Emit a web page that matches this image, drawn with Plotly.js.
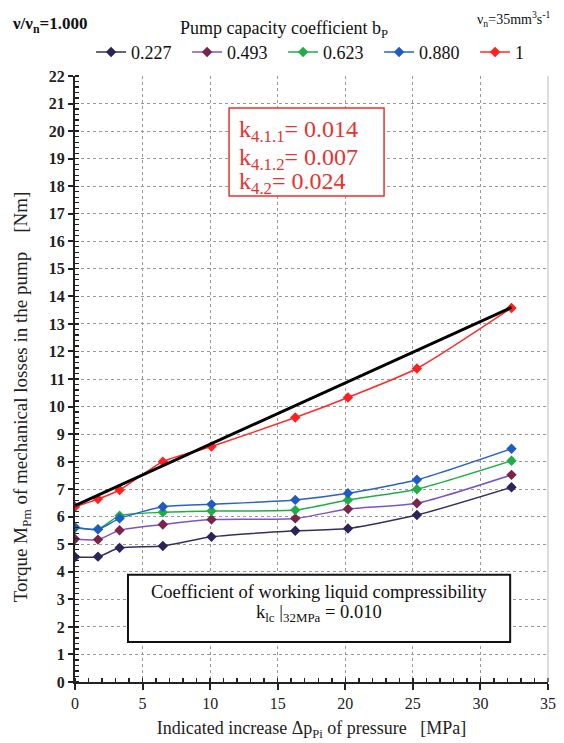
<!DOCTYPE html>
<html><head><meta charset="utf-8">
<script src="https://cdn.plot.ly/plotly-3.0.1.min.js"></script>
<style>html,body{margin:0;padding:0;background:#fff;}#chart{width:564px;height:743px;}</style>
</head><body><div id="chart"></div>
<script>
const pressure = [0, 1.7, 3.3, 6.5, 10.1, 16.3, 20.2, 25.3, 32.3];
const seriesNames = ["0.227", "0.493", "0.623", "0.880", "1"];
const torque_0227 = [4.54, 4.55, 4.87, 4.94, 5.27, 5.49, 5.57, 6.06, 7.07];
const torque_0493 = [5.19, 5.17, 5.51, 5.72, 5.90, 5.94, 6.28, 6.49, 7.52];
const torque_0623 = [5.60, 5.55, 6.04, 6.16, 6.21, 6.24, 6.61, 7.00, 8.03];
const torque_0880 = [5.62, 5.54, 5.94, 6.36, 6.45, 6.61, 6.85, 7.34, 8.47];
const torque_1 = [6.36, 6.64, 6.97, 8.00, 8.55, 9.60, 10.33, 11.38, 13.58];
const trendX = [0, 32.3];
const trendY = [6.4, 13.6];
const kLabels = ["k<sub>4.1.1</sub>= 0.014", "k<sub>4.1.2</sub>= 0.007", "k<sub>4.2</sub>= 0.024"];
const boxLines = ["Coefficient of working liquid compressibility", "k<sub>lc</sub> |<sub>32MPa</sub> = 0.010"];

const lineColors = ["#33305e", "#7b55c8", "#1fae45", "#2a62c6", "#ff2a2a"];
const markerColors = ["#2a2458", "#7a2448", "#1fae45", "#1f5bc4", "#ff1f1f"];
const allY = [torque_0227, torque_0493, torque_0623, torque_0880, torque_1];

const serif = "Liberation Serif";
const traces = allY.map((ys, i) => ({
  x: pressure, y: ys, name: seriesNames[i], type: "scatter", mode: "lines+markers",
  legendwidth: i < 4 ? 51 : 14,
  line: {color: lineColors[i], width: 1.5, shape: "spline", smoothing: 0.6},
  marker: {symbol: "diamond", size: 8, color: markerColors[i]}
}));
traces.push({x: trendX, y: trendY, type: "scatter", mode: "lines", showlegend: false,
  line: {color: "#000", width: 3}});

const kY = [19.99, 19.0, 18.1];
const annotations = kLabels.map((t, i) => ({
  xref: "x", yref: "y", x: 11.95, y: kY[i], xanchor: "left", yanchor: "middle", align: "left", showarrow: false,
  text: t, font: {size: 24, family: serif, color: "#e8332e"}
}));
const boxY = [3.27, 2.5];
boxLines.forEach((t, i) => annotations.push({
  xref: "x", yref: "y", x: 18.05, y: boxY[i], xanchor: "center", yanchor: "middle", align: "center", showarrow: false,
  text: t, font: {size: 18.5, family: serif, color: "#111"}
}));
annotations.push(
  {xref: "paper", yref: "paper", x: -0.137, y: 1.084, xanchor: "left", yanchor: "middle", showarrow: false,
   text: "<b>ν/ν<sub>n</sub>=1.000</b>", font: {size: 17, family: serif, color: "#111"}},
  {xref: "paper", yref: "paper", x: 0.442, y: 1.077, xanchor: "center", yanchor: "middle", showarrow: false,
   text: "Pump capacity coefficient b<sub>P</sub>", font: {size: 18, family: serif, color: "#111"}},
  {xref: "paper", yref: "paper", x: 1.011, y: 1.094, xanchor: "right", yanchor: "middle", showarrow: false,
   text: "ν<sub>n</sub>=35mm<sup>3</sup>s<sup>-1</sup>", font: {size: 14, family: serif, color: "#111"}},
  {xref: "paper", yref: "paper", x: -0.112, y: 0.47, xanchor: "center", yanchor: "middle", showarrow: false, textangle: -90,
   text: "Torque M<sub>Pm</sub> of mechanical losses in the pump\u00a0\u00a0\u00a0\u00a0[Nm]", font: {size: 19, family: serif, color: "#222"}}
);

const layout = {
  width: 564, height: 743,
  margin: {l: 75, r: 16, t: 76, b: 61},
  paper_bgcolor: "#fff", plot_bgcolor: "#fff",
  font: {family: serif, color: "#111"},
  showlegend: true,
  legend: {orientation: "h", x: 0.034, xanchor: "left", y: 1.039, yanchor: "middle",
    font: {size: 18, family: serif, color: "#111"}, itemwidth: 30,
    tracegroupgap: 0, bgcolor: "rgba(0,0,0,0)"},
  xaxis: {range: [0, 35], dtick: 5, tick0: 0, showgrid: true, gridcolor: "#999", griddash: "dot", gridwidth: 1,
    showline: true, linecolor: "#222", linewidth: 2, ticks: "outside", ticklen: 6, tickwidth: 2, tickcolor: "#222",
    minor: {dtick: 1, ticks: "inside", ticklen: 4, tickwidth: 1.5, tickcolor: "#222", showgrid: false},
    zeroline: false, tickfont: {size: 16, family: serif, color: "#222"},
    title: {text: "Indicated increase Δp<sub>Pi</sub> of pressure\u00a0\u00a0\u00a0[MPa]", font: {size: 18, family: serif, color: "#222"}, standoff: 10}},
  yaxis: {range: [0, 22], dtick: 1, tick0: 0, showgrid: true, gridcolor: "#999", griddash: "dot", gridwidth: 1,
    showline: true, linecolor: "#222", linewidth: 2, ticks: "outside", ticklen: 5, tickwidth: 2, tickcolor: "#222",
    minor: {dtick: 0.2, ticks: "inside", ticklen: 4, tickwidth: 1.2, tickcolor: "#222", showgrid: false},
    zeroline: false, tickfont: {size: 16, family: serif, color: "#222", weight: "bold"}},
  shapes: [
    {type: "line", xref: "paper", yref: "paper", x0: 1, x1: 1, y0: 0, y1: 1, line: {color: "#bbb", width: 1}},
    {type: "rect", xref: "x", yref: "y", x0: 11.4, x1: 22.87, y0: 17.64, y1: 20.84, fillcolor: "#fff", line: {color: "#e8332e", width: 1.5}, layer: "above"},
    {type: "rect", xref: "x", yref: "y", x0: 3.92, x1: 32.2, y0: 1.45, y1: 3.89, fillcolor: "#fff", line: {color: "#111", width: 2}, layer: "above"}
  ],
  annotations: annotations
};
Plotly.newPlot("chart", traces, layout, {displayModeBar: false, staticPlot: true});
</script></body></html>
